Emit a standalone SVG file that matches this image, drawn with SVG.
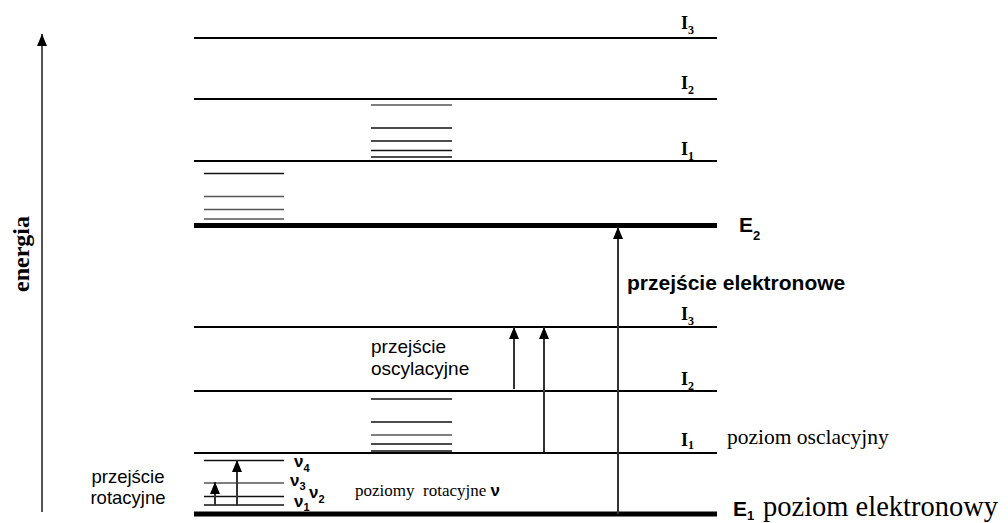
<svg xmlns="http://www.w3.org/2000/svg" width="1008" height="523" viewBox="0 0 1008 523">
<style>
.lvl{stroke:#000;stroke-width:2;fill:none}
.el{stroke:#000;stroke-width:5;fill:none}
.sub{stroke:#111;stroke-width:1.4;fill:none}
.subg{stroke:#555;stroke-width:1.4;fill:none}
.arr{stroke:#333;stroke-width:2;fill:none;marker-end:url(#ah)}
.tb{font-family:"Liberation Serif",serif;font-weight:bold;fill:#000}
.ts{font-family:"Liberation Serif",serif;fill:#000}
.sa{font-family:"Liberation Sans",Arial,sans-serif;fill:#000}
.sab{font-family:"Liberation Sans",Arial,sans-serif;font-weight:bold;fill:#000}
</style>
<defs>
<marker id="ah" viewBox="0 0 12 10" refX="12" refY="5" markerWidth="12" markerHeight="10" markerUnits="userSpaceOnUse" orient="auto">
<path d="M0,0 L12,5 L0,10 Z" fill="#000"/>
</marker>
</defs>
<rect width="1008" height="523" fill="#fff"/>

<g id="axis">
<line x1="42" y1="512" x2="42" y2="34" class="arr" style="stroke:#555"/>
<text class="tb" font-size="24" transform="translate(29,254) rotate(-90)" text-anchor="middle">energia</text>
</g>

<g id="upper-state">
<line x1="194" y1="38" x2="717" y2="38" class="lvl"/>
<line x1="194" y1="99" x2="717" y2="99" class="lvl"/>
<line x1="194" y1="161" x2="717" y2="161" class="lvl"/>
<line x1="194" y1="225.5" x2="717" y2="225.5" class="el"/>
<line x1="204" y1="173.5" x2="284" y2="173.5" class="sub"/>
<line x1="204" y1="196.5" x2="284" y2="196.5" class="subg"/>
<line x1="204" y1="209.5" x2="284" y2="209.5" class="subg"/>
<line x1="204" y1="219" x2="284" y2="219" class="subg"/>
<line x1="371" y1="105" x2="452" y2="105" class="subg"/>
<line x1="371" y1="128" x2="452" y2="128" class="sub"/>
<line x1="371" y1="141" x2="452" y2="141" class="sub"/>
<line x1="371" y1="150.5" x2="452" y2="150.5" class="sub"/>
<line x1="371" y1="157" x2="452" y2="157" class="sub"/>
<text class="tb" font-size="18" x="681" y="29">I<tspan font-size="12" dy="5">3</tspan></text>
<text class="tb" font-size="18" x="681" y="89">I<tspan font-size="12" dy="5">2</tspan></text>
<text class="tb" font-size="18" x="681" y="155">I<tspan font-size="12" dy="5">1</tspan></text>
<text class="sab" font-size="21" x="739" y="232">E<tspan font-size="13" dy="8">2</tspan></text>
</g>

<g id="lower-state">
<line x1="194" y1="327" x2="717" y2="327" class="lvl"/>
<line x1="194" y1="391" x2="717" y2="391" class="lvl"/>
<line x1="194" y1="453" x2="717" y2="453" class="lvl"/>
<line x1="194" y1="514" x2="717" y2="514" class="el"/>
<line x1="204" y1="460.5" x2="284" y2="460.5" class="sub"/>
<line x1="204" y1="483" x2="284" y2="483" class="subg"/>
<line x1="204" y1="496.5" x2="284" y2="496.5" class="sub"/>
<line x1="204" y1="505" x2="284" y2="505" class="sub"/>
<line x1="371" y1="399" x2="452" y2="399" class="sub"/>
<line x1="371" y1="422" x2="452" y2="422" class="sub"/>
<line x1="371" y1="435" x2="452" y2="435" class="subg"/>
<line x1="371" y1="444" x2="452" y2="444" class="sub"/>
<line x1="371" y1="451" x2="452" y2="451" class="sub"/>
<text class="tb" font-size="18" x="681" y="320">I<tspan font-size="12" dy="5">3</tspan></text>
<text class="tb" font-size="18" x="681" y="385">I<tspan font-size="12" dy="5">2</tspan></text>
<text class="tb" font-size="18" x="681" y="446">I<tspan font-size="12" dy="3">1</tspan></text>
<text class="ts" font-size="21.5" x="727" y="444">poziom osclacyjny</text>
<text class="sab" font-size="21" x="733" y="516">E<tspan font-size="13" dy="4">1</tspan></text>
<text class="ts" font-size="28.5" x="763" y="516">poziom elektronowy</text>
<text class="ts" font-size="17" x="355" y="496" xml:space="preserve" style="white-space:pre">poziomy  rotacyjne <tspan class="sab" font-size="17">ν</tspan></text>
<text class="sab" font-size="17" x="294" y="467">ν<tspan font-size="11" dy="5">4</tspan></text>
<text class="sab" font-size="17" x="290" y="486">ν<tspan font-size="11" dy="4">3</tspan></text>
<text class="sab" font-size="17" x="309" y="498">ν<tspan font-size="11" dy="5">2</tspan></text>
<text class="sab" font-size="17" x="294" y="507">ν<tspan font-size="11" dy="4">1</tspan></text>
</g>

<g id="connectors">
<line x1="618" y1="514" x2="618" y2="227" class="arr"/>
<line x1="514" y1="389" x2="514" y2="327" class="arr"/>
<line x1="544" y1="452" x2="544" y2="327" class="arr"/>
<line x1="215" y1="506" x2="215" y2="482" class="arr"/>
<line x1="237" y1="506" x2="237" y2="460" class="arr"/>
</g>

<g id="labels">
<text class="sab" font-size="21" x="627" y="290">przejście elektronowe</text>
<text class="sa" font-size="19" x="371" y="353">przejście</text>
<text class="sa" font-size="19" x="371" y="375">oscylacyjne</text>
<text class="sa" font-size="18.5" x="128" y="483" text-anchor="middle">przejście</text>
<text class="sa" font-size="18.5" x="128" y="504" text-anchor="middle">rotacyjne</text>
</g>
</svg>
